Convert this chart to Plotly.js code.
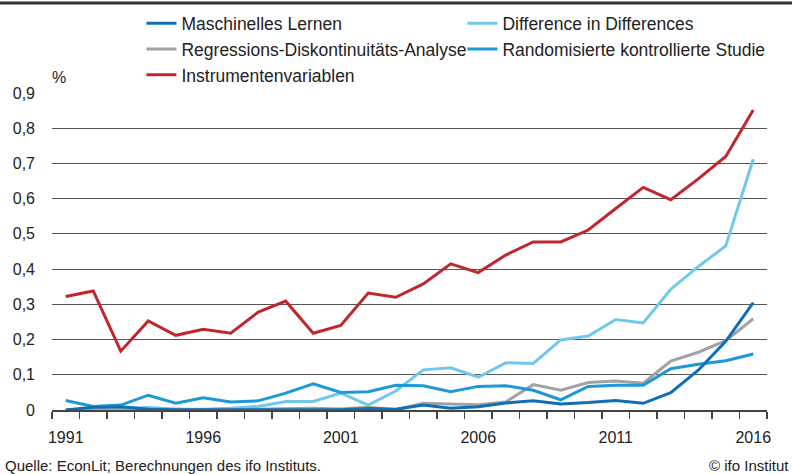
<!DOCTYPE html>
<html>
<head>
<meta charset="utf-8">
<script src="https://cdn.plot.ly/plotly-3.0.1.min.js"></script>
<style>
html,body{margin:0;padding:0;background:#fff;}
#chart{width:792px;height:474px;}
</style>
</head>
<body>
<div id="chart"></div>
<script>
var years = [1991,1992,1993,1994,1995,1996,1997,1998,1999,2000,2001,2002,2003,2004,2005,2006,2007,2008,2009,2010,2011,2012,2013,2014,2015,2016];
var seriesNames = ["Maschinelles Lernen","Difference in Differences","Regressions-Diskontinuitäts-Analyse","Randomisierte kontrollierte Studie","Instrumentenvariablen"];
var maschinellesLernen = [0.000,0.008,0.009,0.002,0.001,0.001,0.001,0.002,0.003,0.003,0.001,0.004,0.002,0.014,0.005,0.009,0.020,0.026,0.017,0.021,0.027,0.019,0.049,0.113,0.195,0.305];
var diffInDiff = [0.000,0.002,0.003,0.007,0.002,0.002,0.005,0.010,0.024,0.024,0.048,0.014,0.054,0.114,0.120,0.093,0.134,0.132,0.199,0.210,0.257,0.247,0.343,0.407,0.466,0.712];
var regressionsDiskont = [0.000,0.005,0.005,0.003,0.001,0.001,0.001,0.002,0.005,0.005,0.003,0.008,0.001,0.019,0.017,0.015,0.023,0.072,0.056,0.078,0.082,0.076,0.139,0.164,0.197,0.259];
var randomisiert = [0.027,0.010,0.014,0.042,0.019,0.035,0.023,0.026,0.048,0.074,0.050,0.052,0.070,0.069,0.052,0.067,0.069,0.056,0.029,0.067,0.070,0.070,0.117,0.130,0.140,0.159];
var instrumente = [0.322,0.338,0.167,0.253,0.212,0.229,0.218,0.278,0.309,0.218,0.240,0.332,0.320,0.358,0.415,0.390,0.440,0.477,0.477,0.511,0.572,0.632,0.597,0.656,0.720,0.852];
var xTickYears = [1991,1996,2001,2006,2011,2016];
var xTickText = ["1991","1996","2001","2006","2011","2016"];
var colors = ["#0f6fb6","#72c7ee","#a2a2a2","#1d9ad6","#c0272d"];

var allSeries = [maschinellesLernen, diffInDiff, regressionsDiskont, randomisiert, instrumente];
var drawOrder = [1,2,3,0,4];
var traces = [];
for (var i = 0; i < allSeries.length; i++) {
  traces.push({
    x: years, y: allSeries[i], name: seriesNames[i], type: 'scatter', mode: 'lines',
    line: {color: colors[i], width: 3}, legendrank: i + 1
  });
}
var ordered = drawOrder.map(function(k){ return traces[k]; });

var FONT = 'Liberation Sans, Arial, sans-serif';
var layout = {
  width: 792, height: 474,
  margin: {l: 52, r: 25, t: 93, b: 64, pad: 0, autoexpand: false},
  paper_bgcolor: '#fff', plot_bgcolor: '#fff',
  separators: ',.',
  font: {family: FONT, size: 15, color: '#222'},
  showlegend: true,
  legend: {
    orientation: 'h', xref: 'container', yref: 'container',
    x: 0.9892, xanchor: 'right', y: 0.9886, yanchor: 'top',
    entrywidth: 276, entrywidthmode: 'pixels', traceorder: 'normal',
    itemwidth: 30, font: {family: FONT, size: 17.5, color: '#222'},
    bgcolor: 'rgba(0,0,0,0)', tracegroupgap: 0
  },
  xaxis: {
    type: 'linear', range: [1990.5, 2016.5], fixedrange: true,
    tickmode: 'array', tickvals: xTickYears, ticktext: xTickText,
    ticks: '', showgrid: false, zeroline: false,
    showline: true, linecolor: '#444', linewidth: 1.5,
    ticklabelstandoff: 12,
    tickfont: {family: FONT, size: 16, color: '#222'},
    minor: {tickmode: 'linear', tick0: 1990.5, dtick: 1, ticks: 'outside', ticklen: 7, tickwidth: 1.2, tickcolor: '#444', showgrid: false}
  },
  yaxis: {
    range: [0, 0.9], fixedrange: true, tickmode: 'linear', tick0: 0, dtick: 0.1,
    showgrid: true, gridcolor: '#555', gridwidth: 1, zeroline: false,
    showline: false, ticks: '', ticklabelstandoff: 16,
    tickfont: {family: FONT, size: 16, color: '#222'}
  },
  shapes: [{
    type: 'line', xref: 'paper', yref: 'paper', x0: -0.08, x1: 1.05,
    ysizemode: 'pixel', yanchor: 1, y0: 90, y1: 90,
    line: {color: '#333', width: 3}
  }],
  annotations: [
    {text: '%', xref: 'paper', yref: 'paper', x: 0, y: 1, xanchor: 'left', yanchor: 'bottom', yshift: 5, xshift: -2, showarrow: false, font: {family: FONT, size: 16, color: '#222'}},
    {text: 'Quelle: EconLit; Berechnungen des ifo Instituts.', xref: 'paper', yref: 'paper', x: -0.069, y: 0, xanchor: 'left', yanchor: 'middle', yshift: -55, showarrow: false, font: {family: FONT, size: 15, color: '#222'}},
    {text: '© ifo Institut', xref: 'paper', yref: 'paper', x: 1.033, y: 0, xanchor: 'right', yanchor: 'middle', yshift: -55, showarrow: false, font: {family: FONT, size: 15, color: '#222'}}
  ]
};
Plotly.newPlot('chart', ordered, layout, {displayModeBar: false, staticPlot: true});
</script>
</body>
</html>
